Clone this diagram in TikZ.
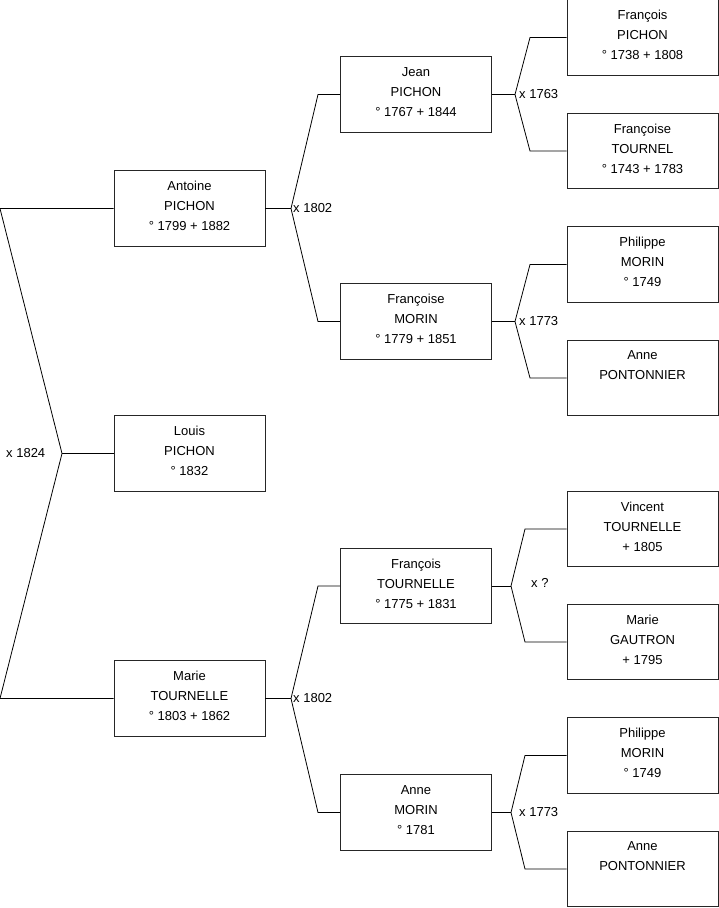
\documentclass[tikz,border=0pt]{standalone}
\usepackage{fontspec}
\setmainfont{Liberation Sans}
\begin{document}
\begin{tikzpicture}[x=1pt,y=-1pt,
  person/.style={draw=black!85, line width=0.8pt, minimum width=151pt, minimum height=75.5pt,
    inner sep=0pt, align=center, text depth=5pt, font=\fontsize{13}{20}\selectfont},
  link/.style={draw=black, line width=0.8pt},
  marr/.style={anchor=west, inner sep=0pt, font=\fontsize{13}{16}\selectfont}]
\useasboundingbox (0,0) rectangle (719,908);
% column 1
\node[person] (antoine) at (189.5,208.5) {Antoine\\PICHON\\° 1799 + 1882};
\node[person] (louis) at (189.5,453.5) {Louis\\PICHON\\° 1832};
\node[person] (marie) at (189.5,698.5) {Marie\\TOURNELLE\\° 1803 + 1862};
% column 2
\node[person] (jean) at (416,94.5) {Jean\\PICHON\\° 1767 + 1844};
\node[person] (fmorin) at (416,321.5) {Françoise\\MORIN\\° 1779 + 1851};
\node[person] (ftournelle) at (416,586) {François\\TOURNELLE\\° 1775 + 1831};
\node[person] (amorin) at (416,812.5) {Anne\\MORIN\\° 1781};
% column 3
\node[person] (fpichon) at (642.5,37.5) {François\\PICHON\\° 1738 + 1808};
\node[person] (ftournel) at (642.5,151) {Françoise\\TOURNEL\\° 1743 + 1783};
\node[person] (pmorin1) at (642.5,264.5) {Philippe\\MORIN\\° 1749};
\node[person] (apont1) at (642.5,378) {Anne\\PONTONNIER\\~};
\node[person] (vincent) at (642.5,529) {Vincent\\TOURNELLE\\+ 1805};
\node[person] (mgautron) at (642.5,642) {Marie\\GAUTRON\\+ 1795};
\node[person] (pmorin2) at (642.5,755.5) {Philippe\\MORIN\\° 1749};
\node[person] (apont2) at (642.5,869) {Anne\\PONTONNIER\\~};
% coordinates
\coordinate (t0) at (0,208.5);
\coordinate (v0) at (62,453.5);
\coordinate (b0) at (0,698.5);
\coordinate (va) at (291,208.5);
\coordinate (vat) at (318,94.5);
\coordinate (vab) at (318,321.5);
\coordinate (vm) at (291,698.5);
\coordinate (vmt) at (318,586);
\coordinate (vmb) at (318,812.5);
\coordinate (vj) at (515,94.5);
\coordinate (vjt) at (530,37.5);
\coordinate (vjb) at (530,151);
\coordinate (vf) at (515,321.5);
\coordinate (vft) at (530,264.5);
\coordinate (vfb) at (530,378);
\coordinate (vt) at (511,586);
\coordinate (vtt) at (525,529);
\coordinate (vtb) at (525,642);
\coordinate (vn) at (511,812.5);
\coordinate (vnt) at (525,755.5);
\coordinate (vnb) at (525,869);
% connectors
\draw[link] (antoine.west) -- (t0) -- (v0) -- (b0) -- (marie.west);
\draw[link] (v0) -- (louis.west);
\draw[link] (antoine.east) -- (va);
\draw[link] (jean.west) -- (vat) -- (va) -- (vab) -- (fmorin.west);
\draw[link] (marie.east) -- (vm);
\draw[link] (ftournelle.west) -- (vmt) -- (vm) -- (vmb) -- (amorin.west);
\draw[link] (jean.east) -- (vj);
\draw[link] (fpichon.west) -- (vjt) -- (vj) -- (vjb) -- (ftournel.west);
\draw[link] (fmorin.east) -- (vf);
\draw[link] (pmorin1.west) -- (vft) -- (vf) -- (vfb) -- (apont1.west);
\draw[link] (ftournelle.east) -- (vt);
\draw[link] (vincent.west) -- (vtt) -- (vt) -- (vtb) -- (mgautron.west);
\draw[link] (amorin.east) -- (vn);
\draw[link] (pmorin2.west) -- (vnt) -- (vn) -- (vnb) -- (apont2.west);
% marriage labels
\node[marr] (m0) at (6,453.5) {x 1824};
\node[marr] (m1) at (293,208.5) {x 1802};
\node[marr] (m2) at (293,698.5) {x 1802};
\node[marr] (m3) at (519,94.5) {x 1763};
\node[marr] (m4) at (519,321.5) {x 1773};
\node[marr] (m5) at (531,583) {x ?};
\node[marr] (m6) at (519,812.5) {x 1773};
\end{tikzpicture}
\end{document}
